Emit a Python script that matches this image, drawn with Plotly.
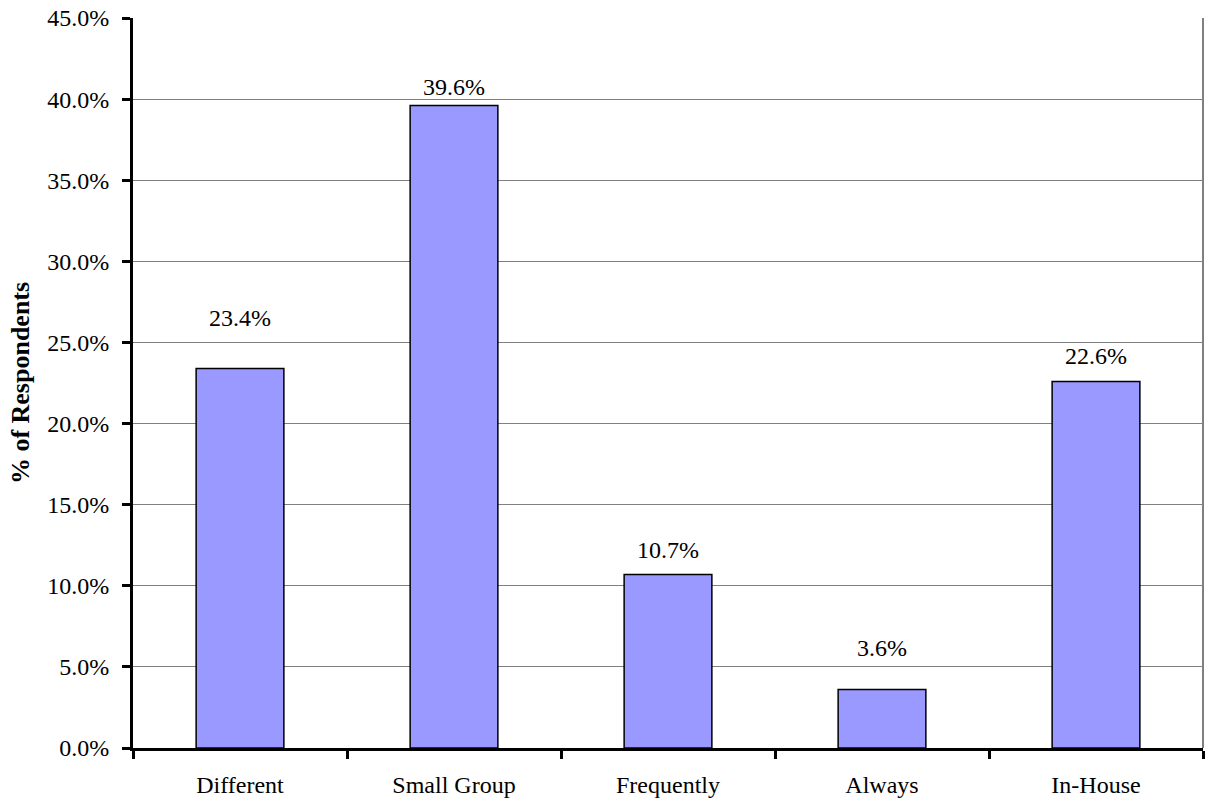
import plotly.graph_objects as go

categories = ["Different", "Small Group", "Frequently", "Always", "In-House"]
values = [23.4, 39.6, 10.7, 3.6, 22.6]
label_texts = ["23.4%", "39.6%", "10.7%", "3.6%", "22.6%"]
# vertical offset of each value label above its bar, in pixels
label_offsets = [50, 19, 24, 42, 25]

y_ticks = [0, 5, 10, 15, 20, 25, 30, 35, 40, 45]
y_tick_labels = ["0.0%", "5.0%", "10.0%", "15.0%", "20.0%", "25.0%",
                 "30.0%", "35.0%", "40.0%", "45.0%"]

font_family = "Times New Roman, Times, serif"
font_size = 24

fig = go.Figure()
fig.add_trace(go.Bar(
    x=categories,
    y=values,
    width=0.41,
    marker=dict(color="#9999FF", line=dict(color="black", width=1.5)),
    hoverinfo="skip",
))

for cat, val, txt, off in zip(categories, values, label_texts, label_offsets):
    fig.add_annotation(
        x=cat, y=val, text=txt, showarrow=False,
        yshift=off, font=dict(family=font_family, size=font_size, color="black"),
    )

# grey outline on the right of the plotting area
fig.add_shape(type="line", xref="paper", yref="paper", x0=1, x1=1, y0=0, y1=1,
              line=dict(color="#808080", width=2), layer="below")

fig.update_layout(
    width=1205, height=805,
    margin=dict(l=133, r=2, t=18, b=57),
    plot_bgcolor="white", paper_bgcolor="white",
    showlegend=False,
    font=dict(family=font_family, size=font_size, color="black"),
)
fig.update_xaxes(
    type="category", range=[-0.5, 4.5],
    tickson="boundaries", ticks="outside", ticklen=8, tickwidth=3, tickcolor="black",
    ticklabelstandoff=13,
    showline=True, linecolor="black", linewidth=3,
    showgrid=False, zeroline=False,
    tickfont=dict(family=font_family, size=font_size, color="black"),
)
fig.update_yaxes(
    range=[0, 45], tickvals=y_ticks, ticktext=y_tick_labels,
    ticks="outside", ticklen=8, tickwidth=3, tickcolor="black",
    ticklabelstandoff=8,
    showline=True, linecolor="black", linewidth=3,
    showgrid=True, gridcolor="#808080", gridwidth=1, zeroline=False,
    tickfont=dict(family=font_family, size=font_size, color="black"),
    title=dict(text="<b>% of Respondents</b>", standoff=11,
               font=dict(family=font_family, size=26, color="black")),
)

fig.write_html("out.html")
